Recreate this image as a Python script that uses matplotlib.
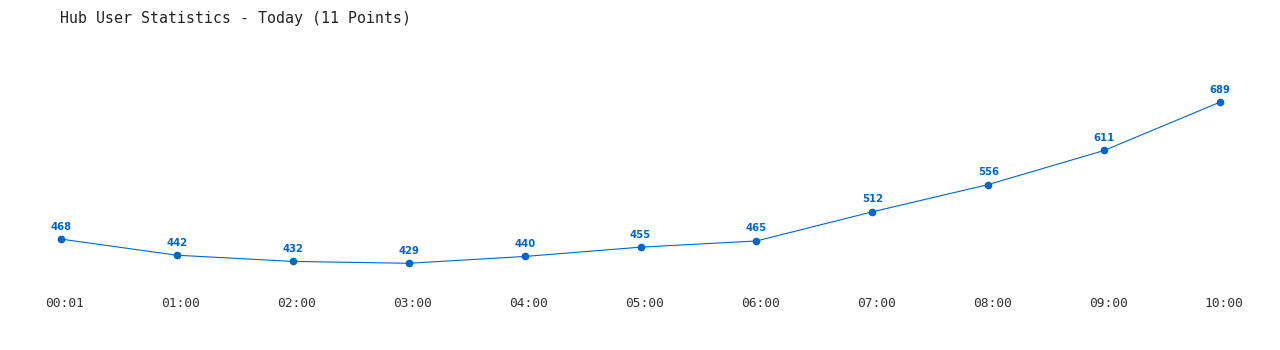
import matplotlib
matplotlib.use("Agg")
import matplotlib.pyplot as plt
import matplotlib.transforms as mtransforms

# hourly hub user counts
hours = ["00:01", "01:00", "02:00", "03:00", "04:00", "05:00",
         "06:00", "07:00", "08:00", "09:00", "10:00"]
users = [468, 442, 432, 429, 440, 455, 465, 512, 556, 611, 689]

blue = "#0066cc"

fig = plt.figure(figsize=(12.8, 3.5), dpi=100)
ax = fig.add_axes([3 / 1280, 0.161, 1275 / 1280, 0.673])

xs = list(range(len(users)))
ax.plot(xs, users, color=blue, linewidth=0.8, marker="o", markersize=4.5,
        clip_on=False)

for x, v in zip(xs, users):
    ax.annotate(str(v), (x, v), xytext=(0, 9), textcoords="offset points",
                ha="center", va="center", color=blue, fontsize=7.2,
                fontweight="bold", family="DejaVu Sans")

ax.set_xlim(-0.5, 10.5)
ax.set_ylim(380, 760)
ax.set_xticks(xs)
ax.set_xticklabels(hours, family="DejaVu Sans Mono", fontsize=9.3, color="#333333")
ax.tick_params(axis="x", length=0, pad=2.5)
# labels sit a few pixels right of the points in the original
shift = mtransforms.ScaledTranslation(4 / 100, 0, fig.dpi_scale_trans)
for lab in ax.get_xticklabels():
    lab.set_transform(lab.get_transform() + shift)
ax.set_yticks([])
for s in ax.spines.values():
    s.set_visible(False)

fig.text(60 / 1280, 1 - 18 / 350, "Hub User Statistics - Today (11 Points)",
         family="DejaVu Sans Mono", fontsize=10.7, va="center", ha="left",
         color="#222222")

fig.savefig("out.png", dpi=100)
